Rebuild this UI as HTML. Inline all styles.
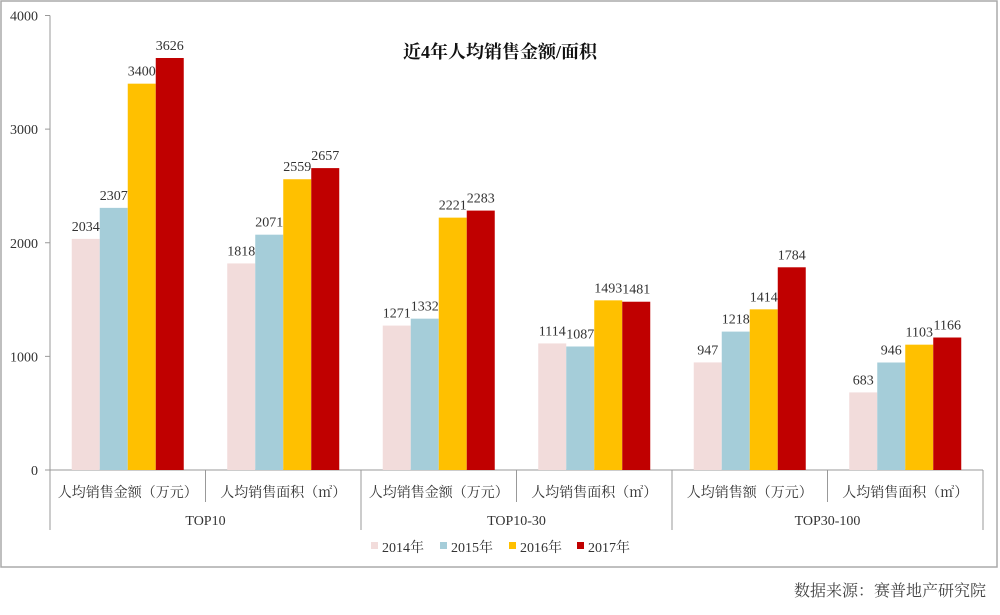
<!DOCTYPE html>
<html><head><meta charset="utf-8"><style>
body{margin:0;background:#fff;width:1000px;height:610px;overflow:hidden}
svg text{font-family:"Liberation Serif","Noto Serif CJK SC",serif;fill:#333}
</style></head><body>
<svg id="chart" width="1000" height="610">
<rect x="1" y="1" width="996" height="566" fill="#fff" stroke="#aaa" stroke-width="1.5"/>
<text x="500" y="58" text-anchor="middle" font-size="18" font-weight="bold" style="fill:#111">近4年人均销售金额/面积</text>
<g id="axes"></g>
<g id="bars"></g>
<g id="labels"></g>
<g id="legend"></g>
<text x="986" y="596" text-anchor="end" font-size="16" style="fill:#444">数据来源：赛普地产研究院</text>
</svg>
<script>
const categories=["人均销售金额（万元）","人均销售面积（㎡）","人均销售金额（万元）","人均销售面积（㎡）","人均销售额（万元）","人均销售面积（㎡）"];
const groups=["TOP10","TOP10-30","TOP30-100"];
const years=["2014年","2015年","2016年","2017年"];
const s2014=[2034,1818,1271,1114,947,683];
const s2015=[2307,2071,1332,1087,1218,946];
const s2016=[3400,2559,2221,1493,1414,1103];
const s2017=[3626,2657,2283,1481,1784,1166];
const yTicks=[0,1000,2000,3000,4000];
const colors=["#f2dcdb","#a5cdd9","#ffc000","#c00000"];
const series=[s2014,s2015,s2016,s2017];
const NS="http://www.w3.org/2000/svg";
const X0=50,X1=983,Y0=470,Ymax=4000,YT=15.5;
const y=v=>Y0-(v/Ymax)*(Y0-YT);
const gw=(X1-X0)/categories.length, bw=28;
function mk(parent,tag,attrs,text){const e=document.createElementNS(NS,tag);for(const k in attrs)e.setAttribute(k,attrs[k]);if(text!==undefined)e.textContent=text;document.getElementById(parent).appendChild(e);return e;}
// axes
let a=mk("axes","line",{x1:X0,y1:YT,x2:X0,y2:Y0,stroke:"#999"});


a=mk("axes","line",{x1:X0,y1:Y0,x2:X1,y2:Y0,stroke:"#999"});


yTicks.forEach(t=>{
 let l=mk("axes","line",{x1:X0-5,y1:y(t),x2:X0,y2:y(t),stroke:"#999"});
 
 
 let tx=mk("axes","text",{x:38,y:y(t)+5,"text-anchor":"end","font-size":14},t);
 
 
});
// category separators
for(let i=0;i<=categories.length;i++){
 const x=X0+i*gw, major=(i%2===0);
 let l=mk("axes","line",{x1:x,y1:Y0,x2:x,y2:major?530:502,stroke:"#999"});
 
 
}
categories.forEach((c,i)=>{
 let t=mk("labels","text",{x:X0+(i+0.5)*gw,y:497,"text-anchor":"middle","font-size":14},c);
 
 
});
groups.forEach((g,i)=>{
 let t=mk("labels","text",{x:X0+(i+0.5)*2*gw,y:525,"text-anchor":"middle","font-size":14},g);
 
 
});
// bars
categories.forEach((c,i)=>{
 const start=X0+i*gw+(gw-4*bw)/2;
 series.forEach((s,k)=>{
  const v=s[i],x=start+k*bw;
  let r=mk("bars","rect",{x:x,y:y(v),width:bw,height:Y0-y(v),fill:colors[k]});
  
  
  let t=mk("labels","text",{x:x+bw/2,y:y(v)-8,"text-anchor":"middle","font-size":14},v);
  
  
 });
});
// legend
const lx=[371,440,509,577];
years.forEach((yr,k)=>{
 let r=mk("legend","rect",{x:lx[k],y:542,width:7,height:7,fill:colors[k]});
 
 
 let t=mk("legend","text",{x:lx[k]+11,y:552,"font-size":14},yr);
 
 
});
</script>
</body></html>
